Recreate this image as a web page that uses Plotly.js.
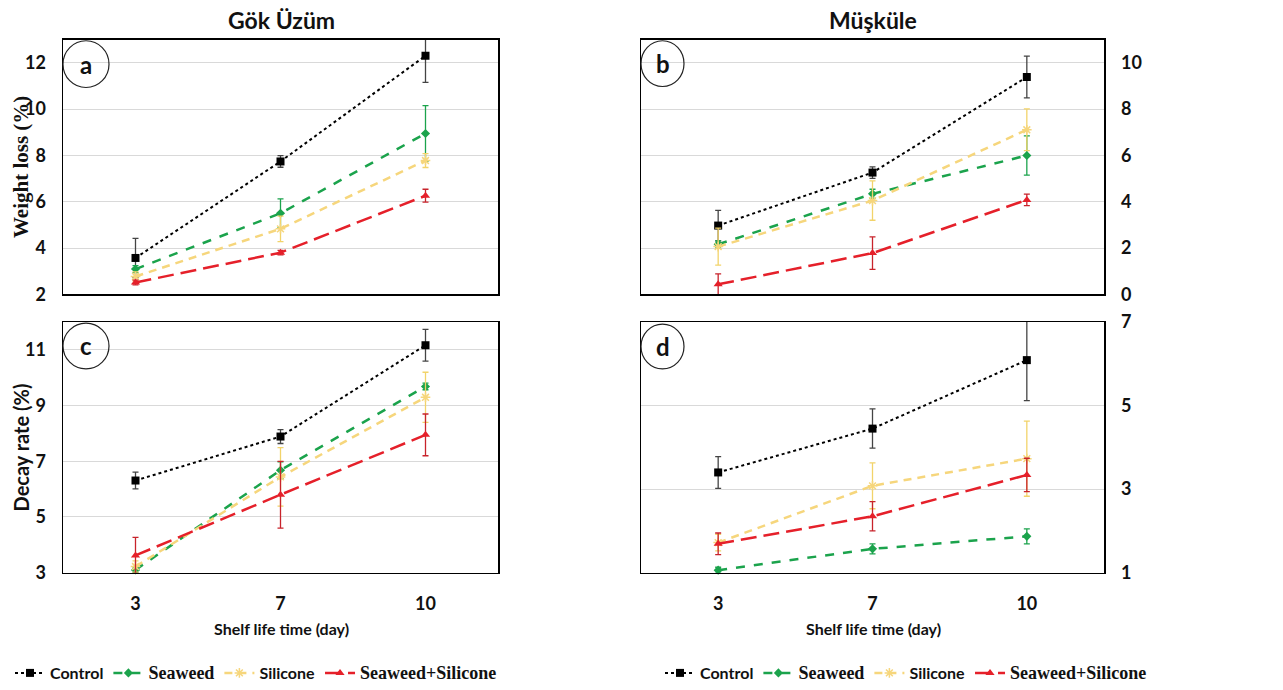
<!DOCTYPE html>
<html>
<head>
<meta charset="utf-8">
<script src="https://cdn.plot.ly/plotly-3.0.1.min.js"></script>
<style>html,body{margin:0;padding:0;background:#fff;}#chart{width:1283px;height:690px;}</style>
</head>
<body>
<div id="chart"></div>
<script>
// ---- data ----
const days = ['3', '7', '10'];
const seriesNames = ['Control', 'Seaweed', 'Silicone', 'Seaweed+Silicone'];
const panelTitles = ['Gök Üzüm', 'Müşküle'];
const panelLetters = ['a', 'b', 'c', 'd'];

// a: Gök Üzüm weight loss
const aControl = [3.57, 7.74, 12.31];   const aControlErr = [0.85, 0.25, 1.15];
const aSeaweed = [3.09, 5.50, 8.95];    const aSeaweedErr = [0.15, 0.62, 1.2];
const aSilicone = [2.77, 4.83, 7.78];   const aSiliconeErr = [0.2, 0.55, 0.3];
const aBoth = [2.51, 3.80, 6.26];       const aBothErr = [0.1, 0.1, 0.28];
// b: Müşküle weight loss
const bControl = [2.97, 5.26, 9.39];    const bControlErr = [0.66, 0.25, 0.9];
const bSeaweed = [2.16, 4.34, 6.00];    const bSeaweedErr = [0.15, 0.2, 0.85];
const bSilicone = [2.06, 4.05, 7.11];   const bSiliconeErr = [0.8, 0.85, 0.9];
const bBoth = [0.43, 1.78, 4.08];       const bBothErr = [0.45, 0.7, 0.25];
// c: Gök Üzüm decay rate
const cControl = [6.31, 7.89, 11.17];   const cControlErr = [0.3, 0.25, 0.57];
const cSeaweed = [3.10, 6.68, 9.69];    const cSeaweedErr = [0.1, 0.3, 0.12];
const cSilicone = [3.22, 6.44, 9.30];   const cSiliconeErr = [0.2, 1.05, 0.9];
const cBoth = [3.62, 5.80, 7.95];       const cBothErr = [0.65, 1.2, 0.75];
// d: Müşküle decay rate
const dControl = [3.40, 4.45, 6.09];    const dControlErr = [0.38, 0.47, 0.97];
const dSeaweed = [1.06, 1.57, 1.87];    const dSeaweedErr = [0.07, 0.12, 0.18];
const dSilicone = [1.72, 3.08, 3.73];   const dSiliconeErr = [0.2, 0.55, 0.9];
const dBoth = [1.69, 2.35, 3.34];       const dBothErr = [0.26, 0.35, 0.4];

// ---- styles ----
const W = 1283, H = 690;
const px = v => v / W;
const py = v => 1 - v / H;
const SANS = 'Lato, Open Sans, sans-serif';
const SERIF = 'Liberation Serif';

const styles = [
  {color: '#000000', err: '#444444', dash: 'dot', width: 2, symbol: 'square', size: 8, lineSym: 0},
  {color: '#1BA34C', err: '#1BA34C', dash: 'dash', width: 2.5, symbol: 'diamond', size: 7, lineSym: 0},
  {color: '#F6D67C', err: '#F2D36A', dash: '8px,6px', width: 2.5, symbol: 'asterisk-open', size: 8, lineSym: 1.5},
  {color: '#E5202A', err: '#C8232B', dash: '16px,7px', width: 2.5, symbol: 'triangle-up', size: 8, lineSym: 0}
];
const legendNames = [
  '<span style="font-family:Lato, sans-serif;font-size:16px">Control</span>',
  '<span style="font-family:Liberation Serif, serif;font-size:18px">Seaweed</span>',
  '<span style="font-family:Lato, sans-serif;font-size:16px">Silicone</span>',
  '<span style="font-family:Liberation Serif, serif;font-size:18px">Seaweed+Silicone</span>'
];

const panels = [
  {xa: 'x', ya: 'y', legend: 'legend', show: true,
   vals: [aControl, aSeaweed, aSilicone, aBoth], errs: [aControlErr, aSeaweedErr, aSiliconeErr, aBothErr]},
  {xa: 'x2', ya: 'y2', legend: 'legend2', show: true,
   vals: [bControl, bSeaweed, bSilicone, bBoth], errs: [bControlErr, bSeaweedErr, bSiliconeErr, bBothErr]},
  {xa: 'x3', ya: 'y3', legend: 'legend', show: false,
   vals: [cControl, cSeaweed, cSilicone, cBoth], errs: [cControlErr, cSeaweedErr, cSiliconeErr, cBothErr]},
  {xa: 'x4', ya: 'y4', legend: 'legend2', show: false,
   vals: [dControl, dSeaweed, dSilicone, dBoth], errs: [dControlErr, dSeaweedErr, dSiliconeErr, dBothErr]}
];

const traces = [];
panels.forEach(p => {
  p.vals.forEach((v, i) => {
    const s = styles[i];
    traces.push({
      type: 'scatter', mode: 'lines+markers',
      x: days, y: v, xaxis: p.xa, yaxis: p.ya,
      name: legendNames[i], legend: p.legend, showlegend: p.show,
      line: {color: s.color, dash: s.dash, width: s.width},
      marker: {symbol: s.symbol, size: s.size, color: s.color, line: {color: s.color, width: s.lineSym}},
      error_y: {type: 'data', array: p.errs[i], visible: true, color: s.err, thickness: 1.3, width: 3},
      cliponaxis: false, hoverinfo: 'x+y'
    });
  });
});

const xDomL = [px(63), px(498)], xDomR = [px(641), px(1104)];
const yDomT = [py(296), py(40)], yDomB = [py(576), py(324)];

function xAxis(dom, anchor, showLabels) {
  return {
    domain: dom, anchor: anchor, type: 'category', categoryorder: 'array', categoryarray: days,
    range: [-0.5, 2.5], showgrid: false, zeroline: false,
    showline: true, linecolor: '#000', linewidth: 1.5, mirror: true,
    ticks: '', showticklabels: showLabels, ticklabelstandoff: 14,
    tickfont: {family: SANS, size: 18, color: '#111', weight: 'bold'}
  };
}
function yAxis(dom, anchor, side, range, tickvals) {
  return {
    domain: dom, anchor: anchor, side: side, range: range, tickvals: tickvals,
    showgrid: true, gridcolor: '#d9d9d9', gridwidth: 1, zeroline: false,
    showline: true, linecolor: '#000', linewidth: 1.5, mirror: true,
    ticks: '', ticklabelstandoff: 12,
    tickfont: {family: SANS, size: 18, color: '#111', weight: 'bold'}
  };
}

function note(text, x, y, font, angle) {
  return {text: text, x: px(x), y: py(y), xref: 'paper', yref: 'paper', showarrow: false,
    xanchor: 'center', yanchor: 'middle', textangle: angle || 0, font: font};
}

const annotations = [
  note(panelTitles[0], 281, 20, {family: SANS, size: 23, color: '#111', weight: 'bold'}),
  note(panelTitles[1], 873, 20, {family: SANS, size: 23, color: '#111', weight: 'bold'}),
  note('<span style="font-family:Liberation Serif, serif">Weight loss (%)</span>', 21, 168,
       {family: SERIF, size: 21, color: '#111', weight: 'bold'}, -90),
  note('Decay rate (%)', 21, 450, {family: SANS, size: 20, color: '#111', weight: 'bold'}, -90),
  note('Shelf life time (day)', 281, 632, {family: SANS, size: 16, color: '#111', weight: 'bold'}),
  note('Shelf life time (day)', 873, 632, {family: SANS, size: 16, color: '#111', weight: 'bold'})
];

const circles = [
  {x0: 63, x1: 109, y0: 41, y1: 88},
  {x0: 641, x1: 684, y0: 41, y1: 87},
  {x0: 63, x1: 109, y0: 325, y1: 371},
  {x0: 641, x1: 684, y0: 326, y1: 371}
];
const shapes = circles.map(c => ({
  type: 'circle', xref: 'paper', yref: 'paper',
  x0: px(c.x0), x1: px(c.x1), y0: py(c.y1), y1: py(c.y0),
  line: {color: '#222', width: 1.2}, fillcolor: 'rgba(255,255,255,0)', layer: 'above'
}));
circles.forEach((c, i) => {
  annotations.push(note(panelLetters[i], (c.x0 + c.x1) / 2, (c.y0 + c.y1) / 2,
    {family: SANS, size: 24, color: '#111', weight: 'bold'}));
});

const legendBase = {
  orientation: 'h', xref: 'paper', yref: 'paper', yanchor: 'middle', xanchor: 'left',
  font: {family: SANS, size: 16, color: '#111', weight: 'bold'},
  bgcolor: 'rgba(0,0,0,0)', itemwidth: 30, tracegroupgap: 0
};

const layout = {
  width: W, height: H, margin: {l: 0, r: 0, t: 0, b: 0},
  paper_bgcolor: '#fff', plot_bgcolor: '#fff', showlegend: true,
  xaxis: xAxis(xDomL, 'y', false),
  yaxis: yAxis(yDomT, 'x', 'left', [2, 13], [2, 4, 6, 8, 10, 12]),
  xaxis2: xAxis(xDomR, 'y2', false),
  yaxis2: yAxis(yDomT, 'x2', 'right', [0, 11], [0, 2, 4, 6, 8, 10]),
  xaxis3: xAxis(xDomL, 'y3', true),
  yaxis3: yAxis(yDomB, 'x3', 'left', [3, 12], [3, 5, 7, 9, 11]),
  xaxis4: xAxis(xDomR, 'y4', true),
  yaxis4: yAxis(yDomB, 'x4', 'right', [1, 7], [1, 3, 5, 7]),
  legend: Object.assign({}, legendBase, {x: px(10), y: py(677)}),
  legend2: Object.assign({}, legendBase, {x: px(660), y: py(677)}),
  annotations: annotations, shapes: shapes
};

Plotly.newPlot('chart', traces, layout, {displayModeBar: false, staticPlot: true});
</script>
</body>
</html>
